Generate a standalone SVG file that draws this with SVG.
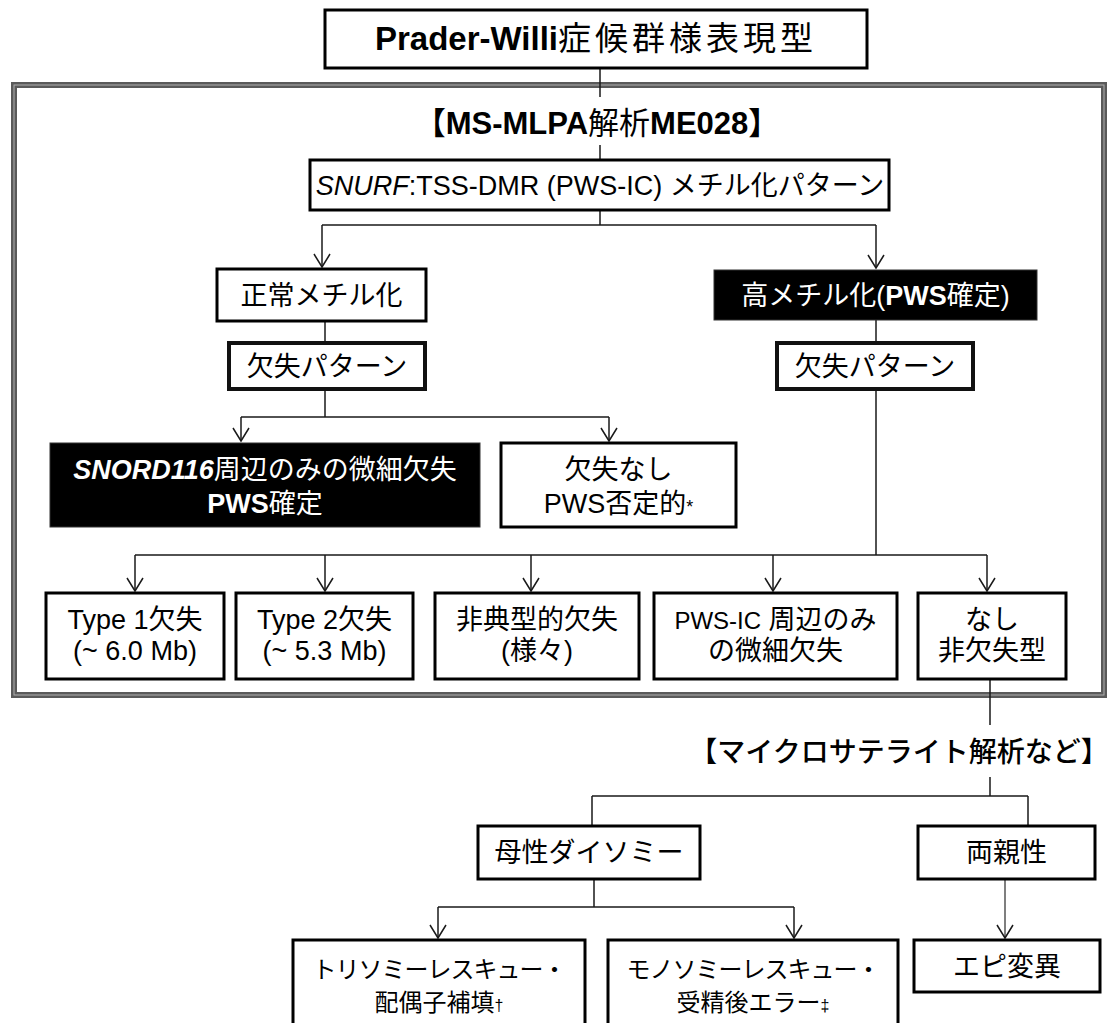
<svg xmlns="http://www.w3.org/2000/svg" width="1111" height="1023" viewBox="0 0 1111 1023">
<style>
.t{font-family:"Liberation Sans","Noto Sans CJK JP",sans-serif;font-size:27px;text-anchor:middle;fill:#000}
.w{fill:#fff}
.b{font-weight:bold}
.box{fill:#fff;stroke:#000;stroke-width:3}
.boxk{fill:#fff;stroke:#111;stroke-width:4}
.blk{fill:#000;stroke:#333;stroke-width:1}
.c{fill:none;stroke:#1a1a1a;stroke-width:1.5}
.ca{fill:none;stroke:#1a1a1a;stroke-width:1.5;marker-end:url(#arr)}
</style>
<defs>
<marker id="arr" viewBox="-15 -10 17 20" markerWidth="17" markerHeight="20" refX="0" refY="0" orient="auto" markerUnits="userSpaceOnUse">
<path d="M-13,-8 L0,0 L-13,8" fill="none" stroke="#1a1a1a" stroke-width="1.5"/>
</marker>
</defs>
<rect width="1111" height="1023" fill="#fff"/>

<g id="container">
<rect x="14" y="85" width="1090" height="610" fill="none" stroke="#5a5a5a" stroke-width="6"/>
<rect x="14" y="85" width="1090" height="610" fill="none" stroke="#b0b0b0" stroke-width="1"/>
</g>

<g id="connectors">
<path class="c" d="M600,68 V97 M600,145 V160"/>
<path class="c" d="M600,210 V225 M322,225 H876"/>
<path class="ca" d="M322,225 V267"/>
<path class="ca" d="M876,225 V268"/>
<path class="c" d="M325,321 V343"/>
<path class="c" d="M876,320 V343"/>
<path class="c" d="M325,389 V417 M241,417 H609"/>
<path class="ca" d="M241,417 V441"/>
<path class="ca" d="M609,417 V441"/>
<path class="c" d="M876,389 V555 M135,555 H987"/>
<path class="ca" d="M135,555 V591"/>
<path class="ca" d="M325,555 V591"/>
<path class="ca" d="M531,555 V591"/>
<path class="ca" d="M773,555 V591"/>
<path class="ca" d="M987,555 V591"/>
<path class="c" d="M990,679 V725 M990,777 V796 M592,796 H1028 M592,796 V826 M1028,796 V826"/>
<path class="c" d="M594,879 V907 M438,907 H794"/>
<path class="ca" d="M438,907 V938"/>
<path class="ca" d="M794,907 V938"/>
<path class="ca" d="M1005,879 V938" style="stroke:#555"/>
</g>

<g id="title">
<rect class="box" x="325" y="10" width="542" height="58"/>
<text class="t" x="596" y="50" style="font-size:33px"><tspan class="b">Prader-Willi</tspan><tspan letter-spacing="4">症候群様表現型</tspan></text>
</g>

<g id="mlpa-label">
<text class="t b" x="597" y="134" style="font-size:31px">【MS-MLPA<tspan font-weight="normal">解析</tspan>ME028】</text>
</g>

<g id="snurf">
<rect class="box" x="310" y="160" width="579" height="50"/>
<text class="t" x="600" y="195"><tspan font-style="italic">SNURF</tspan>:TSS-DMR (PWS-IC) メチル化パターン</text>
</g>

<g id="normal-meth">
<rect class="box" x="217" y="269" width="209" height="52"/>
<text class="t" x="321.5" y="305">正常メチル化</text>
</g>

<g id="hyper-meth">
<rect class="blk" x="714" y="270" width="323" height="50"/>
<text class="t w" x="875.5" y="305">高メチル化(<tspan class="b">PWS</tspan>確定)</text>
</g>

<g id="del-pattern-left">
<rect class="boxk" x="229" y="343" width="196" height="46"/>
<text class="t" x="327" y="376">欠失パターン</text>
</g>

<g id="del-pattern-right">
<rect class="boxk" x="777" y="343" width="196" height="46"/>
<text class="t" x="875" y="376">欠失パターン</text>
</g>

<g id="snord116">
<rect class="blk" x="50" y="443" width="430" height="84"/>
<text class="t w" x="265" y="479"><tspan class="b" font-style="italic">SNORD116</tspan>周辺のみの微細欠失</text>
<text class="t w" x="265" y="513"><tspan class="b">PWS</tspan>確定</text>
</g>

<g id="no-deletion">
<rect class="box" x="501" y="443" width="235" height="84"/>
<text class="t" x="618.5" y="479">欠失なし</text>
<text class="t" x="618.5" y="513">PWS否定的<tspan style="font-size:18px">*</tspan></text>
</g>

<g id="type1">
<rect class="box" x="46" y="593" width="178" height="86"/>
<text class="t" x="135" y="629">Type 1欠失</text>
<text class="t" x="135" y="660">(~ 6.0 Mb)</text>
</g>

<g id="type2">
<rect class="box" x="236" y="593" width="177" height="86"/>
<text class="t" x="324.5" y="629">Type 2欠失</text>
<text class="t" x="324.5" y="660">(~ 5.3 Mb)</text>
</g>

<g id="atypical">
<rect class="box" x="435" y="593" width="204" height="86"/>
<text class="t" x="537" y="629">非典型的欠失</text>
<text class="t" x="537" y="660">(様々)</text>
</g>

<g id="pwsic-micro">
<rect class="box" x="654" y="593" width="243" height="86"/>
<text class="t" x="775.5" y="629"><tspan style="font-size:24px">PWS-IC</tspan> 周辺のみ</text>
<text class="t" x="775.5" y="660">の微細欠失</text>
</g>

<g id="non-deletion">
<rect class="box" x="918" y="593" width="148" height="86"/>
<text class="t" x="992" y="629">なし</text>
<text class="t" x="992" y="660">非欠失型</text>
</g>

<g id="microsat-label">
<text class="t" x="899" y="762" style="font-size:28px;font-weight:500">【マイクロサテライト解析など】</text>
</g>

<g id="maternal-upd">
<rect class="box" x="478" y="826" width="222" height="53"/>
<text class="t" x="589" y="862">母性ダイソミー</text>
</g>

<g id="biparental">
<rect class="box" x="918" y="826" width="177" height="53"/>
<text class="t" x="1006.5" y="862">両親性</text>
</g>

<g id="trisomy-rescue">
<rect class="box" x="293" y="940" width="292" height="100"/>
<text class="t" x="439" y="978" style="font-size:24px" letter-spacing="-1">トリソミーレスキュー・</text>
<text class="t" x="439" y="1011" style="font-size:24px">配偶子補填<tspan style="font-size:16px">†</tspan></text>
</g>

<g id="monosomy-rescue">
<rect class="box" x="608" y="940" width="290" height="100"/>
<text class="t" x="753" y="978" style="font-size:24px" letter-spacing="-1">モノソミーレスキュー・</text>
<text class="t" x="753" y="1011" style="font-size:24px">受精後エラー<tspan style="font-size:16px">‡</tspan></text>
</g>

<g id="epimutation">
<rect class="box" x="914" y="940" width="186" height="52"/>
<text class="t" x="1007" y="976">エピ変異</text>
</g>
</svg>
